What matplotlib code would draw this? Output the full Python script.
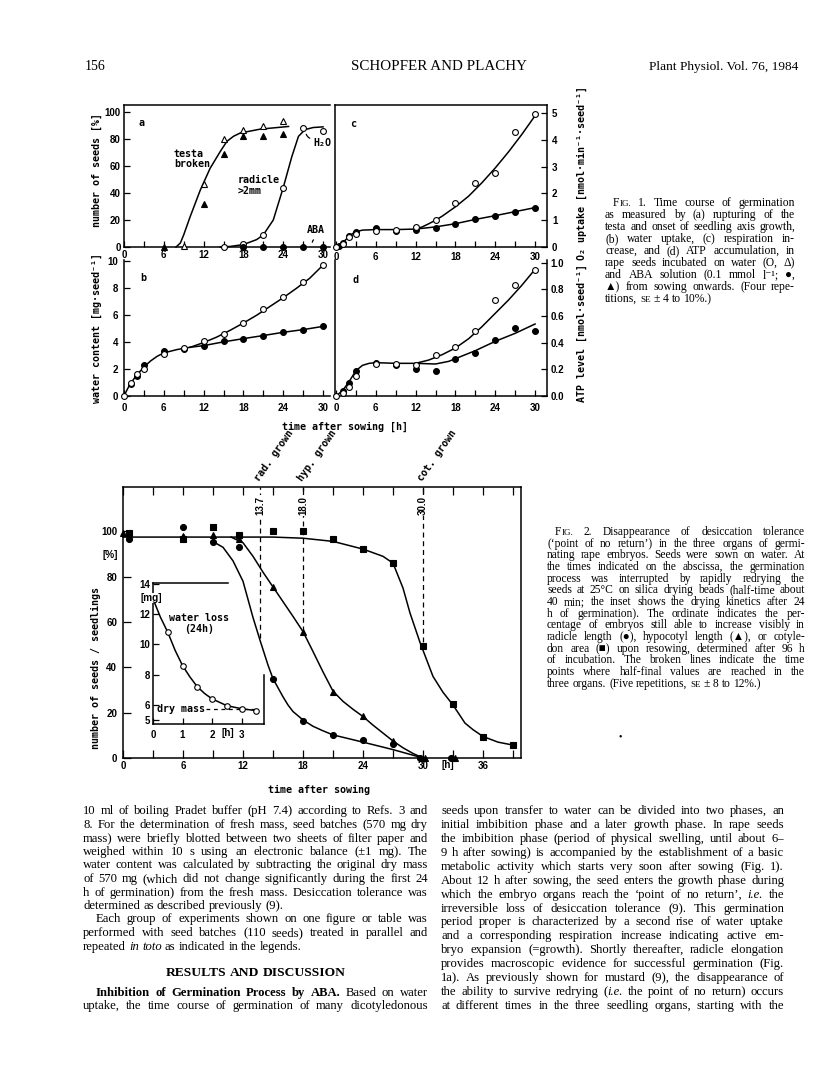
import matplotlib
matplotlib.use('Agg')
import matplotlib.pyplot as plt
import numpy as np

# ------------------------------------------------------------------ DATA
# Fig. 1a  number of seeds [%]
a_testa_h2o_t = [9, 12, 15, 18, 21, 24]
a_testa_h2o = [0.5, 47, 80, 87, 90, 93]
a_testa_aba_t = [6, 12, 15, 18, 21, 24]
a_testa_aba = [0, 32, 69, 82, 82, 84]
a_rad_h2o_t = [15, 18, 21, 24, 27, 30]
a_rad_h2o = [0, 2, 9, 44, 88, 86]
a_rad_aba_t = [18, 21, 24, 27, 30]
a_rad_aba = [0, 0, 0, 0, 0]
a_testa_fit_t = [7.85, 8.5, 9, 9.96, 11.5, 12.98, 14.5, 15.5, 16.5, 17.5, 20.5, 24.8]
a_testa_fit = [0, 3, 9, 22.3, 42.2, 58.3, 70.7, 78.2, 82, 84.4, 87.3, 89.3]
a_rad_fit_t = [14.5, 16, 18, 20, 21, 22.5, 24, 25.3, 26.3, 27.3, 28.5, 30]
a_rad_fit = [0, 0.4, 1.8, 5.5, 9, 20, 44, 67, 82, 87, 88.5, 89]

# Fig. 1b  water content [mg/seed]
b_t = [0, 1, 2, 3, 6, 9, 12, 15, 18, 21, 24, 27, 30]
b_h2o = [0, 1.0, 1.65, 2.02, 3.14, 3.6, 4.12, 4.62, 5.45, 6.44, 7.38, 8.5, 9.75]
b_aba_t = [1, 2, 3, 6, 9, 12, 15, 18, 21, 24, 27, 30]
b_aba = [0.9, 1.46, 2.27, 3.33, 3.46, 3.72, 4.05, 4.27, 4.49, 4.74, 4.91, 5.18]
b_fit_common_t = [0, 0.5, 1, 2, 3, 4, 5, 6, 8, 10]
b_fit_common = [0, 0.5, 0.95, 1.6, 2.15, 2.6, 2.95, 3.2, 3.45, 3.62]
b_fit_h2o_t = [10, 12, 14, 16, 18, 20, 22, 24, 26, 28, 30]
b_fit_h2o = [3.62, 3.97, 4.38, 4.88, 5.42, 6.0, 6.65, 7.3, 8.0, 8.75, 9.72]
b_fit_aba_t = [10, 12, 15, 18, 21, 24, 27, 30]
b_fit_aba = [3.62, 3.74, 4.02, 4.26, 4.49, 4.73, 4.93, 5.17]

# Fig. 1c  O2 uptake
c_t = [0, 1, 2, 3, 6, 9, 12, 15, 18, 21, 24, 27, 30]
c_h2o = [0, 0.1, 0.38, 0.48, 0.6, 0.63, 0.73, 1.0, 1.63, 2.38, 2.75, 4.29, 4.95]
c_aba_t = [0.5, 1, 2, 3, 6, 9, 12, 15, 18, 21, 24, 27, 30]
c_aba = [0.02, 0.15, 0.4, 0.56, 0.71, 0.58, 0.63, 0.71, 0.85, 1.06, 1.15, 1.3, 1.46]
c_fit_common_t = [0, 0.5, 1, 1.5, 2, 2.5, 3, 4, 6, 9, 12]
c_fit_common = [0, 0.05, 0.15, 0.28, 0.4, 0.5, 0.57, 0.63, 0.65, 0.65, 0.67]
c_fit_h2o_t = [12, 13, 14, 15, 16, 18, 20, 22, 24, 26, 28, 30]
c_fit_h2o = [0.67, 0.75, 0.87, 1.0, 1.15, 1.5, 1.9, 2.4, 2.95, 3.55, 4.2, 4.9]
c_fit_aba_t = [12, 15, 18, 21, 24, 27, 30]
c_fit_aba = [0.67, 0.75, 0.87, 1.03, 1.17, 1.32, 1.47]

# Fig. 1d  ATP level
d_t = [0, 1, 2, 3, 6, 9, 12, 15, 18, 21, 24, 27, 30]
d_h2o = [0, 0.02, 0.07, 0.15, 0.24, 0.24, 0.23, 0.31, 0.37, 0.49, 0.72, 0.83, 0.945]
d_aba_t = [1, 2, 3, 6, 9, 12, 15, 18, 21, 24, 27, 30]
d_aba = [0.035, 0.1, 0.19, 0.25, 0.23, 0.2, 0.19, 0.28, 0.32, 0.42, 0.51, 0.49]
d_fit_common_t = [0, 1, 2, 3, 4, 5, 6, 9, 12]
d_fit_common = [0, 0.04, 0.11, 0.19, 0.23, 0.245, 0.25, 0.245, 0.245]
d_fit_h2o_t = [12, 14, 16, 18, 20, 22, 24, 26, 28, 30]
d_fit_h2o = [0.245, 0.27, 0.31, 0.36, 0.43, 0.52, 0.62, 0.72, 0.83, 0.95]
d_fit_aba_t = [12, 15, 17, 18, 21, 24, 27, 30]
d_fit_aba = [0.245, 0.24, 0.26, 0.28, 0.34, 0.41, 0.47, 0.54]

# Fig. 2  embryos still able to grow [%]
rad_t = [0.6, 6, 9, 11.6, 15, 18, 21, 24, 27, 29.7, 32.8]
rad_y = [96.5, 102, 95.5, 93, 35, 16.5, 10.2, 8, 6.3, 0, 0]
hyp_t = [0, 6, 9, 11.6, 15, 18, 21, 24, 27, 30.2, 33.2]
hyp_y = [99.5, 98, 98.5, 96.5, 75.5, 55.8, 29.3, 18.5, 7.5, 0, 0]
cot_t = [0.6, 6, 9, 11.6, 15, 18, 21, 24, 27, 30, 33, 36, 39]
cot_y = [99.5, 96.5, 102, 98.5, 100, 100, 96.6, 92.2, 86, 49.4, 23.8, 9.3, 5.7]
rad_fit_t = [9, 10, 11, 12, 13, 13.7, 14.5, 15, 16, 16.5, 17, 18, 19, 20, 21, 24, 27, 30]
rad_fit = [95.5, 93, 87, 78, 62, 52, 41, 35, 27, 23.4, 20.5, 16.8, 14, 12, 10.2, 7, 3.7, 0]
hyp_fit_t = [10.8, 12, 13, 14, 15, 16, 17, 18, 19, 20, 21, 22, 23, 24, 25, 26, 27, 28, 29, 30]
hyp_fit = [97.5, 95, 89, 82, 75.5, 69, 62.5, 55.8, 47, 38, 29.5, 25, 21.5, 18.3, 14.5, 11, 7.5, 4.5, 2, 0]
cot_fit_t = [0, 6, 12, 15, 18, 21, 24, 26, 27, 28, 28.7, 29.7, 31, 32, 33, 34.2, 35, 36, 37.5, 39]
cot_fit = [97.5, 97.5, 97.5, 97.5, 97, 95.6, 92.2, 89, 86, 75, 64, 51, 36, 29, 23.4, 15.4, 12.5, 9.5, 7, 5.7]
half_times = [13.7, 18.0, 30.0]
half_labels = ['13.7', '18.0', '30.0']
half_line_bottom = [53, 56, 51]
organ_labels = ['rad. grown', 'hyp. grown', 'cot. grown']

# Fig. 2 inset  seed mass during redrying [mg]
ins_t = [0, 0.5, 1, 1.5, 2, 2.5, 3, 3.5]
ins_m = [13.0, 10.8, 8.57, 7.16, 6.38, 5.94, 5.72, 5.6]
ins_fit_t = [0, 0.25, 0.5, 0.75, 1, 1.25, 1.5, 1.75, 2, 2.5, 3, 3.5]
ins_fit = [13.0, 11.8, 10.8, 9.6, 8.6, 7.85, 7.2, 6.75, 6.4, 5.95, 5.75, 5.62]
dry_mass = 5.7

# ------------------------------------------------------------------ TEXT
header_left = '156'
header_mid = 'SCHOPFER AND PLACHY'
header_right = 'Plant Physiol. Vol. 76, 1984'

cap1 = [
    "~Fig. 1. Time course of germination",
    "as measured by (a) rupturing of the",
    "testa and onset of seedling axis growth,",
    "(b) water uptake, (c) respiration in-",
    "crease, and (d) ATP accumulation, in",
    "rape seeds incubated on water (O, Δ)",
    "and ABA solution (0.1 mmol l⁻¹; ●,",
    "▲) from sowing onwards. (Four repe-",
    "titions, ^SE ± 4 to 10%.)",
]
cap2 = [
    "~Fig. 2. Disappearance of desiccation tolerance",
    "(‘point of no return’) in the three organs of germi-",
    "nating rape embryos. Seeds were sown on water. At",
    "the times indicated on the abscissa, the germination",
    "process was interrupted by rapidly redrying the",
    "seeds at 25°C on silica drying beads (half-time about",
    "40 min; the inset shows the drying kinetics after 24",
    "h of germination). The ordinate indicates the per-",
    "centage of embryos still able to increase visibly in",
    "radicle length (●), hypocotyl length (▲), or cotyle-",
    "don area (■) upon resowing, determined after 96 h",
    "of incubation. The broken lines indicate the time",
    "points where half-final values are reached in the",
    "three organs. (Five repetitions, ^SE ± 8 to 12%.)",
]
left_col = [
    "10 ml of boiling Pradet buffer (pH 7.4) according to Refs. 3 and",
    "8. For the determination of fresh mass, seed batches (570 mg dry",
    "mass) were briefly blotted between two sheets of filter paper and",
    "weighed within 10 s using an electronic balance (±1 mg). The",
    "water content was calculated by subtracting the original dry mass",
    "of 570 mg (which did not change significantly during the first 24",
    "h of germination) from the fresh mass. Desiccation tolerance was",
    "determined as described previously (9).",
    "Each group of experiments shown on one figure or table was",
    "performed with seed batches (110 seeds) treated in parallel and",
    "repeated _in _toto as indicated in the legends.",
]
left_end = [7, 10]
left_indent = [8]
results_title = "#RESULTS #AND #DISCUSSION"
left_col2 = [
    "#Inhibition #of #Germination #Process #by #ABA. Based on water",
    "uptake, the time course of germination of many dicotyledonous",
]
right_col = [
    "seeds upon transfer to water can be divided into two phases, an",
    "initial imbibition phase and a later growth phase. In rape seeds",
    "the imbibition phase (period of physical swelling, until about 6–",
    "9 h after sowing) is accompanied by the establishment of a basic",
    "metabolic activity which starts very soon after sowing (Fig. 1).",
    "About 12 h after sowing, the seed enters the growth phase during",
    "which the embryo organs reach the ‘point of no return’, _i.e. the",
    "irreversible loss of desiccation tolerance (9). This germination",
    "period proper is characterized by a second rise of water uptake",
    "and a corresponding respiration increase indicating active em-",
    "bryo expansion (=growth). Shortly thereafter, radicle elongation",
    "provides macroscopic evidence for successful germination (Fig.",
    "1a). As previously shown for mustard (9), the disappearance of",
    "the ability to survive redrying (_i.e. the point of no return) occurs",
    "at different times in the three seedling organs, starting with the",
]

# ------------------------------------------------------------------ SETUP
W, H = 816, 1073
plt.rcParams['font.family'] = ['Liberation Sans', 'DejaVu Sans']
plt.rcParams['font.weight'] = 'bold'
plt.rcParams['axes.linewidth'] = 1.1
fig = plt.figure(figsize=(W / 100, H / 100), dpi=100)
fig.patch.set_facecolor('white')

SANS = ['Liberation Sans', 'DejaVu Sans']
MONO = ['DejaVu Sans Mono', 'DejaVu Sans']
SERIF = ['Liberation Serif', 'DejaVu Serif', 'DejaVu Sans']


def fx(x):
    return x / W


def fy(y):
    return 1 - y / H


def add_ax(x0, x1, y0, y1):
    ax = fig.add_axes([x0 / W, 1 - y1 / H, (x1 - x0) / W, (y1 - y0) / H])
    ax.patch.set_alpha(0)
    return ax


def style(ax, spines, tlen=4.3):
    for s in ['left', 'right', 'top', 'bottom']:
        ax.spines[s].set_visible(s in spines)
        ax.spines[s].set_linewidth(1.1)
    ax.tick_params(direction='in', length=tlen, width=0.9, labelsize=7,
                   colors='black')


def tick_labels(ax, which, ticks, shown, pad):
    labels = [(str(t) if t in shown else '') for t in ticks]
    if which == 'x':
        ax.set_xticks(ticks)
        ax.set_xticklabels(labels)
        ax.tick_params(axis='x', pad=pad)
    else:
        ax.set_yticks(ticks)
        ax.set_yticklabels(labels)
        ax.tick_params(axis='y', pad=pad)


def series(ax, t, y, marker, filled, ms=4.2):
    ax.plot(t, y, linestyle='none', marker=marker, ms=ms,
            mfc='black' if filled else 'white', mec='black', mew=0.8,
            clip_on=False, zorder=5)


def fit(ax, t, y, lw=1.1):
    ax.plot(t, y, color='black', lw=lw, clip_on=False, zorder=3)


LBL = dict(family=MONO, fontsize=7.2, weight='bold')

# ------------------------------------------------------------------ FIG 1a
ax = add_ax(124, 330, 105, 247)
style(ax, ['left', 'top', 'bottom'])
ax.set_xlim(0, 31.05)
ax.set_ylim(0, 105.2)
tick_labels(ax, 'x', list(range(0, 31, 3)), [0, 6, 12, 18, 24, 30], 2.3)
tick_labels(ax, 'y', [0, 20, 40, 60, 80, 100], [0, 20, 40, 60, 80, 100], 2.4)
fit(ax, a_testa_fit_t, a_testa_fit)
fit(ax, a_rad_fit_t, a_rad_fit)
series(ax, a_testa_h2o_t, a_testa_h2o, '^', False, 4.6)
series(ax, a_testa_aba_t, a_testa_aba, '^', True, 4.6)
series(ax, a_rad_h2o_t, a_rad_h2o, 'o', False)
series(ax, a_rad_aba_t, a_rad_aba, 'o', True)
ax.text(2.2, 92, 'a', ha='left', va='center', **LBL)
ax.text(7.5, 65, 'testa\nbroken', ha='left', va='center', linespacing=1.05, **LBL)
ax.text(17.2, 45.5, 'radicle\n>2mm', ha='left', va='center', linespacing=1.05, **LBL)
ax.text(28.5, 77, 'H₂O', ha='left', va='center', **LBL)
ax.text(27.6, 12.5, 'ABA', ha='left', va='center', **LBL)
ax.annotate('', xy=(28.4, 80), xytext=(27.4, 85.5),
            arrowprops=dict(arrowstyle='-', lw=0.9, connectionstyle='arc3,rad=0.4'))
ax.annotate('', xy=(28.4, 1.5), xytext=(28.9, 6.5),
            arrowprops=dict(arrowstyle='-', lw=0.9, connectionstyle='arc3,rad=0.4'))

# ------------------------------------------------------------------ FIG 1c
ax = add_ax(335, 547, 105, 247)
style(ax, ['left', 'top', 'right', 'bottom'])
ax.set_xlim(-0.15, 31.8)
ax.set_ylim(0, 5.3)
tick_labels(ax, 'x', list(range(0, 31, 3)), [0, 6, 12, 18, 24, 30], 3.3)
ax.yaxis.tick_right()
tick_labels(ax, 'y', [0, 1, 2, 3, 4, 5], [0, 1, 2, 3, 4, 5], 3.6)
fit(ax, c_fit_common_t, c_fit_common)
fit(ax, c_fit_h2o_t, c_fit_h2o)
fit(ax, c_fit_aba_t, c_fit_aba)
series(ax, c_aba_t, c_aba, 'o', True)
series(ax, c_t, c_h2o, 'o', False)
ax.text(2.1, 4.6, 'c', ha='left', va='center', **LBL)

# ------------------------------------------------------------------ FIG 1b
ax = add_ax(124, 330, 260, 396)
style(ax, ['left', 'bottom'])
ax.set_xlim(0, 31.05)
ax.set_ylim(0, 10.1)
tick_labels(ax, 'x', list(range(0, 31, 3)), [0, 6, 12, 18, 24, 30], 4.7)
tick_labels(ax, 'y', [0, 2, 4, 6, 8, 10], [0, 2, 4, 6, 8, 10], 4.3)
fit(ax, b_fit_common_t, b_fit_common)
fit(ax, b_fit_h2o_t, b_fit_h2o)
fit(ax, b_fit_aba_t, b_fit_aba)
series(ax, b_aba_t, b_aba, 'o', True)
series(ax, b_t, b_h2o, 'o', False)
ax.text(2.4, 8.8, 'b', ha='left', va='center', **LBL)

# ------------------------------------------------------------------ FIG 1d
ax = add_ax(335, 547, 260, 396)
style(ax, ['left', 'right', 'bottom'])
ax.set_xlim(-0.15, 31.8)
ax.set_ylim(0, 1.02)
tick_labels(ax, 'x', list(range(0, 31, 3)), [0, 6, 12, 18, 24, 30], 5.0)
ax.yaxis.tick_right()
ax.set_yticks([0, 0.2, 0.4, 0.6, 0.8, 1.0])
ax.set_yticklabels(['0.0', '0.2', '0.4', '0.6', '0.8', '1.0'])
ax.tick_params(axis='y', pad=2.4)
fit(ax, d_fit_common_t, d_fit_common)
fit(ax, d_fit_h2o_t, d_fit_h2o)
fit(ax, d_fit_aba_t, d_fit_aba)
series(ax, d_aba_t, d_aba, 'o', True)
series(ax, d_t, d_h2o, 'o', False)
ax.text(2.5, 0.87, 'd', ha='left', va='center', **LBL)

# Fig 1 axis titles
fig.text(fx(97), fy(170), 'number of seeds [%]', rotation=90, ha='center', va='center', **LBL)
fig.text(fx(97), fy(328), 'water content [mg·seed⁻¹]', rotation=90, ha='center', va='center', **LBL)
fig.text(fx(582), fy(173), 'O₂ uptake [nmol·min⁻¹·seed⁻¹]', rotation=90, ha='center', va='center', **LBL)
fig.text(fx(582), fy(333), 'ATP level [nmol·seed⁻¹]', rotation=90, ha='center', va='center', **LBL)
fig.text(fx(345), fy(427), 'time after sowing [h]', ha='center', va='center', **LBL)

# ------------------------------------------------------------------ FIG 2
ax = add_ax(123, 521, 487, 758)
style(ax, ['left', 'top', 'right', 'bottom'], tlen=5.8)
ax.set_xlim(0, 39.8)
ax.set_ylim(0, 119.6)
ax.tick_params(axis='x', which='both', top=True, bottom=True)
tick_labels(ax, 'x', list(range(0, 40, 3)), [0, 6, 12, 18, 24, 30, 36], 2.5)
tick_labels(ax, 'y', [0, 20, 40, 60, 80, 100], [0, 20, 40, 60, 80, 100], 4.3)
for xh, lab, yb in zip(half_times, half_labels, half_line_bottom):
    ax.plot([xh, xh], [yb, 119.6], color='black', lw=0.9, ls=(0, (4, 3)), zorder=2)
    ax.text(xh, 111.5, lab, rotation=90, ha='center', va='center',
            fontsize=7, family=SANS, weight='bold',
            bbox=dict(facecolor='white', edgecolor='none', pad=0.6), zorder=4)
for xh, lab in zip(half_times, organ_labels):
    ax.text(xh + 0.1, 121.5, lab, rotation=55, ha='left', va='bottom',
            rotation_mode='anchor', clip_on=False, **LBL)
fit(ax, cot_fit_t, cot_fit)
fit(ax, rad_fit_t, rad_fit)
fit(ax, hyp_fit_t, hyp_fit)
series(ax, cot_t, cot_y, 's', True, 4.3)
series(ax, hyp_t, hyp_y, '^', True, 4.6)
series(ax, rad_t, rad_y, 'o', True, 4.3)
fig.text(fx(447.5), fy(765), '[h]', ha='center', va='center', fontsize=7.2,
         family=SANS, weight='bold')
fig.text(fx(110), fy(555), '[%]', ha='center', va='center', fontsize=7.2,
         family=SANS, weight='bold')
fig.text(fx(96), fy(668), 'number of seeds / seedlings', rotation=90,
         ha='center', va='center', **LBL)
fig.text(fx(319), fy(790), 'time after sowing', ha='center', va='center', **LBL)

# inset
ax = add_ax(153, 264, 583, 724)
style(ax, ['left', 'bottom'], tlen=4.3)
ax.set_xlim(0, 3.76)
ax.set_ylim(4.74, 14.05)
tick_labels(ax, 'x', [0, 1, 2, 3], [0, 1, 2, 3], 4.0)
tick_labels(ax, 'y', [5, 6, 8, 10, 12, 14], [5, 6, 8, 10, 12, 14], 2.0)
ax.plot([0, 2.54], [14.05, 14.05], color='black', lw=1.1, clip_on=False)
ax.plot([3.76, 3.76], [4.74, 7.97], color='black', lw=1.1, clip_on=False)
fit(ax, ins_fit_t, ins_fit)
ax.plot([1.78, 3.5], [dry_mass, dry_mass], color='black', lw=0.9, ls=(0, (3, 3)))
series(ax, ins_t, ins_m, 'o', False, 4.0)
ax.text(1.56, 11.35, 'water loss\n(24h)', ha='center', va='center', linespacing=1.1,
        **LBL)
ax.text(0.15, dry_mass, 'dry mass', ha='left', va='center', **LBL)
fig.text(fx(228), fy(733), '[h]', ha='center', va='center', fontsize=7.2,
         family=SANS, weight='bold')
fig.text(fx(151), fy(598), '[mg]', ha='center', va='center', fontsize=7.2,
         family=SANS, weight='bold',
         bbox=dict(facecolor='white', edgecolor='none', pad=0.3), zorder=10)

# ------------------------------------------------------------------ TEXT BLOCKS
renderer = fig.canvas.get_renderer()


def word_segments(word, size):
    bold = False
    if word.startswith('#'):
        bold = True
        word = word[1:]
    if word.startswith('~'):
        w = word[1:]
        return [(w[0], size, 'normal', bold), (w[1:].upper(), size * 0.78, 'normal', bold)]
    if word.startswith('^'):
        return [(word[1:], size * 0.78, 'normal', bold)]
    segs = []
    italic = False
    for piece in word.split('_'):
        if piece:
            segs.append((piece, size, 'italic' if italic else 'normal', bold))
        italic = not italic
    return segs


def build_items(words, yb, size):
    items = []
    for w in words:
        parts = []
        for txt, tsz, st, bd in word_segments(w, size):
            t = fig.text(0, fy(yb), txt, fontsize=tsz, family=SERIF, style=st,
                         weight='bold' if bd else 'normal', ha='left',
                         va='baseline', color='black')
            parts.append((t, t.get_window_extent(renderer).width))
        items.append(parts)
    return items


def text_line(s, x0, x1, yb, size, justify=True, center=False):
    yb = float(int(round(yb)))
    words = s.split(' ')
    n = len(words)
    items = build_items(words, yb, size)
    widths = [sum(p[1] for p in it) for it in items]
    total = sum(widths)
    sp = size * 100 / 72 * 0.25
    avail = x1 - x0
    min_total = total + (n - 1) * sp * 0.55
    if min_total > avail:
        f = (avail - (n - 1) * sp * 0.55) / total
        for it in items:
            for a, _ in it:
                a.remove()
        size = size * f
        sp = sp * f
        items = build_items(words, yb, size)
        widths = [sum(p[1] for p in it) for it in items]
        total = sum(widths)
    if justify and n > 1:
        gap = (avail - total) / (n - 1)
    else:
        gap = sp
    if center:
        x = (x0 + x1) / 2 - (total + sp * (n - 1)) / 2
    else:
        x = x0
    for it, w in zip(items, widths):
        xx = x
        for art, aw in it:
            art.set_x(xx / W)
            xx += aw
        x += w + gap


# header
fig.text(fx(85), fy(70), header_left, fontsize=10, family=SERIF, weight='normal',
         ha='left', va='baseline')
fig.text(fx(439), fy(70), header_mid, fontsize=10.8, family=SERIF, weight='normal',
         ha='center', va='baseline')
fig.text(fx(798), fy(70), header_right, fontsize=9.6, family=SERIF, weight='normal',
         ha='right', va='baseline')

# captions
for i, s in enumerate(cap1):
    x0 = 613 if i == 0 else 605
    text_line(s, x0, 795, 206.5 + i * 12.0, 8.4, justify=(i < len(cap1) - 1))
for i, s in enumerate(cap2):
    x0 = 555 if i == 0 else 547
    text_line(s, x0, 805, 535 + i * 11.67, 8.3, justify=(i < len(cap2) - 1))
fig.text(fx(620), fy(737), '•', fontsize=7, family=SERIF, weight='normal',
         ha='center', va='center')

# body text
LX0, LX1 = 83, 428
RX0, RX1 = 441, 784
BODY = 9.1
for i, s in enumerate(left_col):
    x0 = LX0 + 13 if i in left_indent else LX0
    text_line(s, x0, LX1, 814.5 + i * 13.5, BODY, justify=(i not in left_end))
text_line(results_title, LX0, LX1, 975.5, 9.7, justify=False, center=True)
text_line(left_col2[0], LX0 + 13, LX1, 995.5, BODY)
text_line(left_col2[1], LX0, LX1, 1009, BODY)
for i, s in enumerate(right_col):
    text_line(s, RX0, RX1, 814.5 + i * 13.86, BODY)

fig.savefig('out.png', dpi=100, facecolor='white')
